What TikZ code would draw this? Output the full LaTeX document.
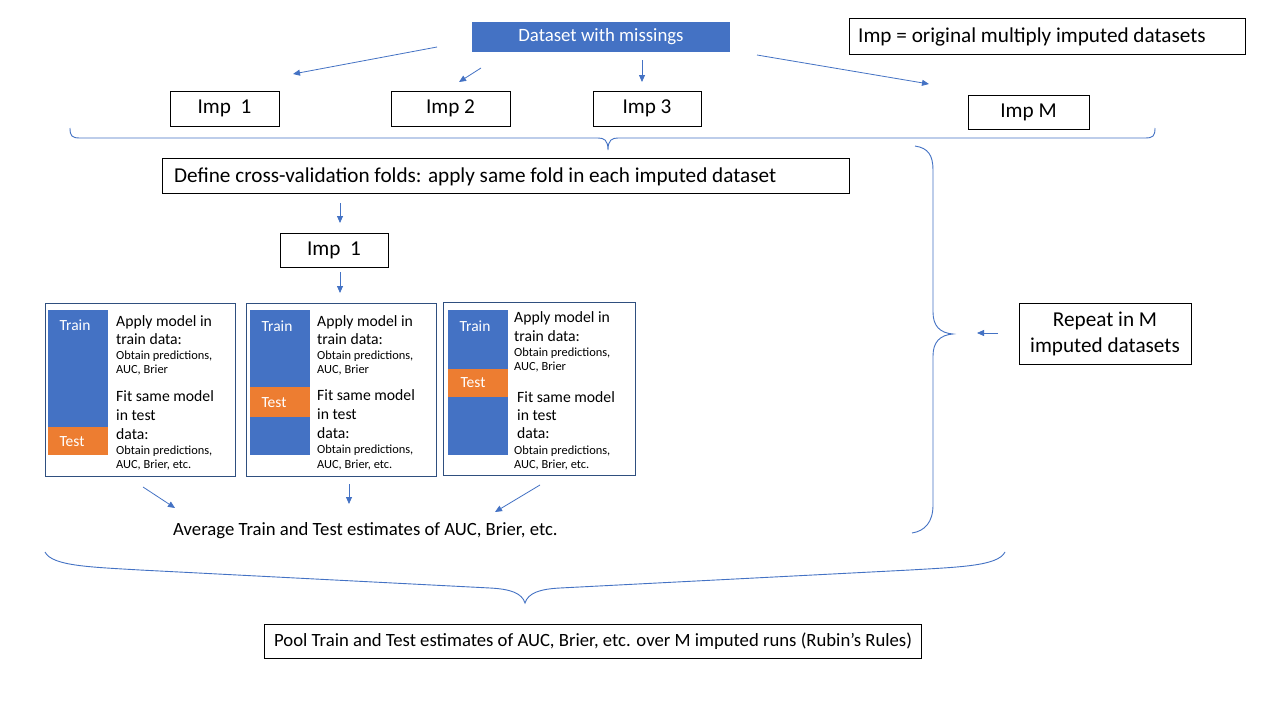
\documentclass[tikz,border=0pt]{standalone}
\usepackage{fontspec}
\setmainfont{Carlito}
\usetikzlibrary{arrows.meta}
\definecolor{ublue}{HTML}{4472C4}
\definecolor{uorange}{HTML}{ED7D31}
\definecolor{uframe}{HTML}{2F4F7F}
\newcommand{\szBig}{\fontsize{21.2}{26}\selectfont}
\newcommand{\szMid}{\fontsize{18.7}{22}\selectfont}
\newcommand{\szDs}{\fontsize{18.8}{22}\selectfont}
\newcommand{\szF}{\fontsize{15.7}{18}\selectfont}
\newcommand{\szS}{\fontsize{12.4}{14}\selectfont}
\newcommand{\szTr}{\fontsize{15.5}{18}\selectfont}
\begin{document}
\begin{tikzpicture}[x=1pt,y=-1pt,
  bx/.style={draw=black, line width=0.8pt, inner sep=0pt},
  fold/.style={draw=uframe, line width=0.8pt, inner sep=0pt, minimum width=190, minimum height=173},
  bar/.style={inner sep=0pt, minimum width=60},
  arr/.style={draw=ublue, line width=0.8pt, -{Triangle[length=7pt,width=6pt]}},
  brc/.style={draw=ublue, line width=0.9pt},
  ft/.style={inner sep=0pt, anchor=base west, font=\szF},
  fs/.style={inner sep=0pt, anchor=base west, font=\szS},
  lab/.style={inner sep=0pt, text=white, font=\szTr}]
\useasboundingbox (0,0) rectangle (1280,720);
\fill[white] (0,0) rectangle (1280,720);

% top
\node[fill=ublue, inner sep=0pt, minimum width=258, minimum height=30, text=white, font=\szDs] (ds) at (601,37) {Dataset with missings};
\node[bx, minimum width=396, minimum height=36] (legend) at (1047,36) {};
\node[inner sep=0pt, anchor=west, font=\szBig] (legt) at (858,37) {Imp = original multiply imputed datasets};
\node[bx, minimum width=109, minimum height=35, font=\szBig] (imp1) at (224.5,108.5) {Imp\ \ 1};
\node[bx, minimum width=119, minimum height=35, font=\szBig] (imp2) at (450.5,108.5) {Imp 2};
\node[bx, minimum width=108, minimum height=35, font=\szBig] (imp3) at (647,108.5) {Imp 3};
\node[bx, minimum width=121, minimum height=34, font=\szBig] (impM) at (1028.5,112) {Imp M};

\coordinate (a1s) at (437,47); \coordinate (a1e) at (293,74);
\coordinate (a2s) at (481,68); \coordinate (a2e) at (459,82);
\coordinate (a3s) at (642,60); \coordinate (a3e) at (642,82);
\coordinate (a4s) at (757,55); \coordinate (a4e) at (929,84);
\draw[arr] (a1s) -- (a1e);
\draw[arr] (a2s) -- (a2e);
\draw[arr] (a3s) -- (a3e);
\draw[arr] (a4s) -- (a4e);

% top brace
\draw[brc] (70,128) .. controls (70,136) and (72,138) .. (80,138) -- (598,138)
  .. controls (604,138) and (608,140) .. (608,150)
  .. controls (608,140) and (612,138) .. (618,138) -- (1145,138)
  .. controls (1153,138) and (1155,136) .. (1155,128);

\node[bx, minimum width=687, minimum height=35] (cv) at (505.5,175.5) {};
\node[inner sep=0pt, anchor=west, font=\szBig] (cvt) at (174,176.5) {Define cross-validation folds: apply same fold in each imputed dataset};
\node[bx, minimum width=108, minimum height=34, font=\szBig] (impB) at (334,250) {Imp\ \ 1};
\coordinate (a5s) at (340,203); \coordinate (a5e) at (340,223);
\coordinate (a6s) at (340,272); \coordinate (a6e) at (340,293);
\draw[arr] (a5s) -- (a5e);
\draw[arr] (a6s) -- (a6e);

% fold boxes
\node[fold] (fb1) at (140,389.5) {};
\node[fold] (fb2) at (341,389.5) {};
\node[fold, minimum width=192] (fb3) at (539,389) {};

% box 1 bars
\node[bar, fill=ublue, minimum height=117] (b1tr) at (78,368.5) {};
\node[bar, fill=uorange, minimum height=28] (b1te) at (78,441) {};
\node[lab] (l1tr) at (75,325) {Train};
\node[lab] (l1te) at (72,442) {Test};
% box 2 bars
\node[bar, fill=ublue, minimum height=77] (b2tr) at (280,348.5) {};
\node[bar, fill=uorange, minimum height=30] (b2te) at (280,402) {};
\node[bar, fill=ublue, minimum height=38] (b2tr2) at (280,436) {};
\node[lab] (l2tr) at (277,326) {Train};
\node[lab] (l2te) at (274,403) {Test};
% box 3 bars
\node[bar, fill=ublue, minimum height=59] (b3tr) at (478,339.5) {};
\node[bar, fill=uorange, minimum height=28] (b3te) at (478,383) {};
\node[bar, fill=ublue, minimum height=58] (b3tr2) at (478,426) {};
\node[lab] (l3tr) at (475,326) {Train};
\node[lab] (l3te) at (473,383) {Test};

% box 1 text
\node[ft] (t1a) at (116,326) {Apply model in};
\node[ft] (t1b) at (116,344) {train data:};
\node[fs] (t1c) at (116,359) {Obtain predictions,};
\node[fs] (t1d) at (116,373) {AUC, Brier};
\node[ft] (t1e) at (116,401) {Fit same model};
\node[ft] (t1f) at (116,420) {in test};
\node[ft] (t1g) at (116,439) {data:};
\node[fs] (t1h) at (116,454) {Obtain predictions,};
\node[fs] (t1i) at (116,468) {AUC, Brier, etc.};
% box 2 text
\node[ft] (t2a) at (317,326) {Apply model in};
\node[ft] (t2b) at (317,344) {train data:};
\node[fs] (t2c) at (317,359) {Obtain predictions,};
\node[fs] (t2d) at (317,373) {AUC, Brier};
\node[ft] (t2e) at (317,400) {Fit same model};
\node[ft] (t2f) at (317,419) {in test};
\node[ft] (t2g) at (317,438) {data:};
\node[fs] (t2h) at (317,453) {Obtain predictions,};
\node[fs] (t2i) at (317,468) {AUC, Brier, etc.};
% box 3 text
\node[ft] (t3a) at (514,322) {Apply model in};
\node[ft] (t3b) at (514,341) {train data:};
\node[fs] (t3c) at (514,356) {Obtain predictions,};
\node[fs] (t3d) at (514,370) {AUC, Brier};
\node[ft] (t3e) at (517,402) {Fit same model};
\node[ft] (t3f) at (517,420) {in test};
\node[ft] (t3g) at (517,438) {data:};
\node[fs] (t3h) at (514,454) {Obtain predictions,};
\node[fs] (t3i) at (514,468) {AUC, Brier, etc.};

\coordinate (a7s) at (143,487); \coordinate (a7e) at (175,508);
\coordinate (a8s) at (349,484); \coordinate (a8e) at (349,504);
\coordinate (a9s) at (540,485); \coordinate (a9e) at (495,512);
\draw[arr] (a7s) -- (a7e);
\draw[arr] (a8s) -- (a8e);
\draw[arr] (a9s) -- (a9e);

\node[inner sep=0pt, anchor=west, font=\szMid] (avg) at (173,531) {Average Train and Test estimates of AUC, Brier, etc.};

% right brace
\draw[brc] (915,146) .. controls (928,148) and (933,155) .. (933,170) -- (933,312)
  .. controls (933,326) and (940,333) .. (953,334)
  .. controls (940,335) and (933,342) .. (933,356) -- (933,505)
  .. controls (933,522) and (925,531) .. (912,533);

\node[bx, minimum width=172, minimum height=61] (rep) at (1105,333.5) {};
\node[inner sep=0pt, align=center, font=\szBig] (rept) at (1105,334) {Repeat in M\\imputed datasets};
\coordinate (a10s) at (998,333); \coordinate (a10e) at (977,333);
\draw[arr] (a10s) -- (a10e);

% bottom brace
\draw[brc] (45,552) .. controls (52,566) and (90,567) .. (140,570) -- (490,588)
  .. controls (510,589) and (522,593) .. (525,603)
  .. controls (528,593) and (540,589) .. (560,588) -- (910,570)
  .. controls (960,567) and (998,566) .. (1005,552);

\node[bx, minimum width=657, minimum height=34] (pool) at (592.5,641) {};
\node[inner sep=0pt, anchor=west, font=\szMid] (poolt) at (274,641) {Pool Train and Test estimates of AUC, Brier, etc. over M imputed runs (Rubin’s Rules)};
\end{tikzpicture}
\end{document}
